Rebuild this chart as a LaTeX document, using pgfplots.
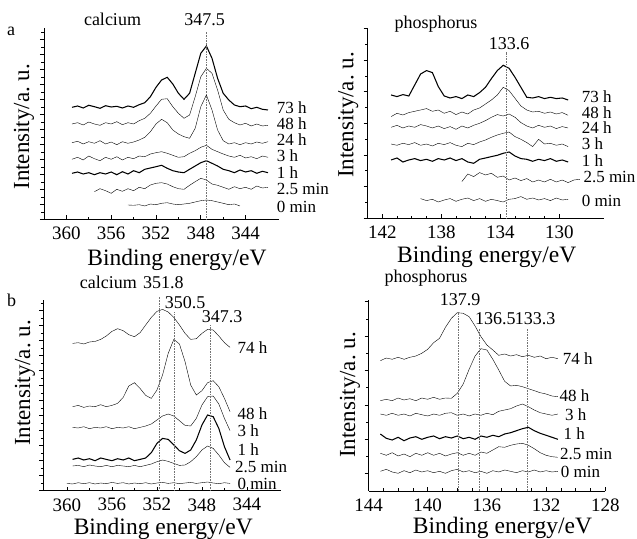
\documentclass[border=0pt]{standalone}
\usepackage{fontspec}
\setmainfont{Liberation Serif}
\usepackage{pgfplots}
\pgfplotsset{compat=1.18}
\usepackage{pgfplotstable}

\newcommand\fs[1]{\fontsize{#1}{#1}\selectfont}

% Ca 2p spectra, sample a (intensity in a.u., curves offset)
\pgfplotstableread{
E     t0    t25   t1    t3    t24   t48   t73
359.5 nan   nan   46.2  60.2  76.8  95.5  112.2
359.0 nan   nan   47.5  62.2  78.2  96.8  113.5
358.5 nan   nan   45.5  59.5  75.5  94.5  111.5
358.0 nan   nan   46.8  63.5  77.8  97.5  114.2
357.5 nan   27.8  44.8  60.8  76.2  95.5  112.8
357.0 nan   30.8  46.8  58.8  78.8  94.2  111.2
356.5 nan   28.8  45.5  62.2  75.5  96.8  113.8
356.0 nan   26.2  47.5  60.2  77.5  95.5  112.5
355.5 nan   30.2  44.8  62.8  74.8  97.8  113.2
355.0 nan   28.2  47.8  59.5  77.8  94.8  111.5
354.5 14.5  30.8  45.5  62.2  76.2  96.8  113.5
354.0 14.2  28.8  48.8  60.8  77.5  95.5  112.2
353.5 14.8  32.2  46.8  63.5  79.5  98.8  114.8
353.0 13.5  30.8  50.2  62.8  82.2  101.2 116.8
352.5 15.5  34.5  51.5  65.5  87.8  106.2 122.8
352.0 14.8  36.2  52.8  66.8  95.5  113.5 132.2
351.5 16.2  36.8  54.2  67.8  100.2 120.2 139.5
351.0 16.8  35.5  51.2  66.2  96.8  120.8 142.2
350.5 15.5  32.8  48.8  64.2  89.5  112.8 135.5
350.0 14.8  30.8  47.5  62.2  85.5  106.2 126.2
349.5 15.5  30.2  46.8  62.8  82.8  101.2 120.2
349.0 16.2  34.2  50.2  66.2  81.2  104.5 126.2
348.5 17.5  37.8  53.5  68.8  91.2  122.8 146.2
348.0 18.8  41.2  56.8  72.2  112.8 142.8 166.2
347.5 19.5  39.5  58.8  74.2  124.5 151.2 173.5
347.0 18.8  35.5  56.2  70.2  109.5 146.2 161.2
346.5 17.5  34.2  53.5  67.8  89.5  129.5 141.2
346.0 16.2  32.2  50.2  65.5  78.8  109.5 126.2
345.5 14.8  30.2  48.8  63.5  75.5  100.2 119.5
345.0 15.5  32.8  46.8  62.2  76.8  96.8  114.5
344.5 13.5  30.8  49.5  64.2  74.8  94.5  112.8
344.0 nan   32.2  47.5  61.5  76.8  96.2  113.5
343.5 nan   30.2  48.8  62.8  75.5  93.5  110.8
343.0 nan   33.5  46.2  60.8  77.5  95.5  112.2
342.5 nan   31.5  48.2  63.5  76.2  93.5  110.2
342.0 nan   32.2  46.8  62.2  77.8  94.2  109.5
}\tabA

% P 2p spectra, sample a
\pgfplotstableread{
E     t0    t25   t1    t3    t24   t48   t73
141.4 nan   nan   58.3  74.3  91.0  101.7 123.3
141.0 nan   nan   60.3  73.0  93.0  105.0 121.7
140.6 nan   nan   56.3  75.0  90.3  103.3 123.7
140.2 nan   nan   58.3  73.7  92.3  105.7 122.3
139.8 nan   nan   59.7  75.7  91.0  107.0 133.3
139.4 19.7  nan   57.7  73.0  93.7  108.3 144.3
139.0 17.7  nan   59.0  74.3  92.3  109.7 147.7
138.6 19.0  nan   57.0  72.3  90.3  107.0 145.7
138.2 16.3  nan   59.7  75.0  92.3  108.3 131.7
137.8 18.3  nan   58.3  73.7  89.7  105.0 122.3
137.4 19.7  nan   60.3  75.7  91.7  107.0 120.3
137.0 17.0  nan   57.7  73.0  89.0  103.7 121.7
136.6 19.0  36.7  59.7  71.7  92.3  106.3 119.7
136.2 20.3  44.3  56.3  75.0  90.3  104.3 123.3
135.8 17.7  41.7  55.0  73.7  93.0  108.3 121.7
135.4 19.7  45.7  59.0  76.3  95.0  110.3 125.7
135.0 17.0  43.3  60.3  78.3  97.7  114.3 131.0
134.6 19.0  45.0  61.7  81.0  101.0 118.3 139.7
134.2 17.7  41.0  63.0  83.3  103.7 123.3 147.7
133.8 16.3  42.3  65.0  85.0  102.3 131.0 153.0
133.4 19.0  38.3  66.3  86.3  104.3 127.7 150.0
133.0 19.7  40.3  62.3  81.7  101.0 120.0 141.0
132.6 21.7  37.7  59.7  79.0  95.7  112.3 131.0
132.2 19.0  39.7  59.0  75.7  92.3  108.3 121.0
131.8 20.3  36.3  57.0  71.7  90.3  106.3 120.3
131.4 18.3  38.3  59.0  79.0  93.0  107.0 121.7
131.0 19.7  36.3  57.7  74.3  91.0  105.0 119.7
130.6 17.7  39.0  59.7  75.0  92.3  106.3 121.0
130.2 20.3  36.3  57.0  73.0  89.7  104.3 119.7
129.8 18.3  38.3  58.3  74.3  91.7  105.7 120.3
129.4 19.0  35.7  56.3  71.7  90.3  103.0 118.3
129.0 nan   38.3  nan   nan   nan   nan   nan
128.6 nan   39.0  nan   nan   nan   nan   nan
}\tabB

% Ca 2p spectra, sample b
\pgfplotstableread{
E     t0    t25   t1    t3    t48   t74
360.0 7.3   nan   nan   nan   nan   nan
359.5 6.7   24.7  31.3  63.3  84.0  147.3
359.0 8.0   25.3  32.7  62.7  85.3  148.0
358.5 7.0   24.0  30.7  64.0  83.3  146.7
358.0 8.0   25.7  32.0  62.0  84.7  148.7
357.5 6.7   24.7  30.0  63.3  84.0  149.3
357.0 7.7   24.0  32.7  62.7  86.0  151.3
356.5 7.0   25.3  31.3  64.0  84.0  154.7
356.0 8.3   24.0  30.0  62.0  85.3  159.3
355.5 7.3   25.3  32.0  63.3  87.3  162.0
355.0 8.0   24.7  30.7  62.7  93.3  160.0
354.5 6.7   24.0  32.7  64.0  104.7 156.0
354.0 7.7   25.3  30.0  62.0  108.0 154.0
353.5 7.0   24.0  31.3  63.3  102.3 158.0
353.0 8.0   25.3  32.7  64.7  95.3  165.7
352.5 6.7   26.7  38.0  66.7  92.3  173.3
352.0 7.7   29.0  47.3  70.7  100.7 179.3
351.5 8.3   30.7  52.3  74.7  115.7 181.3
351.0 7.3   29.3  51.3  76.7  137.3 178.7
350.5 8.0   27.3  45.7  74.7  151.3 173.3
350.0 7.0   25.3  40.0  70.0  146.7 165.7
349.5 7.7   25.7  37.3  65.3  129.0 157.3
349.0 8.3   29.0  40.7  64.7  105.7 151.3
348.5 7.3   34.0  50.7  72.3  95.7  152.0
348.0 8.0   40.7  65.7  85.7  100.0 157.3
347.5 8.7   44.7  75.7  94.0  108.0 161.3
347.0 7.7   42.3  74.0  94.7  110.0 160.7
346.5 7.0   35.7  62.3  86.7  104.0 154.7
346.0 8.0   28.0  44.0  72.3  92.3  148.0
345.5 7.3   23.3  30.7  60.0  79.0  143.3
}\tabC

% P 2p spectra, sample b
\pgfplotstableread{
E     t0    t25   t1    t3    t48   t74
143.2 19.7  37.7  57.0  77.0  90.3  130.3
142.8 21.7  35.7  52.7  75.7  91.7  133.0
142.4 19.0  38.3  51.0  77.7  90.3  131.7
142.0 17.7  35.0  53.7  75.7  93.0  133.7
141.6 20.3  37.0  50.3  77.0  91.0  131.7
141.2 18.3  34.3  53.0  75.0  92.3  133.7
140.8 21.0  37.7  54.3  77.7  90.3  135.0
140.4 19.0  35.7  51.7  76.3  93.0  137.7
140.0 20.3  38.3  53.7  75.0  91.7  141.7
139.6 18.3  35.7  55.0  77.0  93.7  148.3
139.2 19.7  37.7  52.3  75.7  91.7  152.7
138.8 17.7  35.0  54.3  77.7  93.0  163.7
138.4 20.3  37.0  53.0  78.3  92.7  172.7
138.0 21.7  38.3  55.0  75.7  97.7  178.3
137.6 19.0  35.7  52.3  77.0  107.0 177.7
137.2 20.3  37.7  53.7  75.0  121.7 174.3
136.8 18.3  35.7  51.7  77.0  135.0 165.0
136.4 19.7  39.0  55.0  75.7  142.3 154.3
136.0 17.7  37.7  53.7  77.7  141.0 146.0
135.6 20.3  41.0  55.7  76.3  131.7 141.0
135.2 19.0  44.3  54.3  79.7  121.0 135.7
134.8 21.0  43.7  57.0  81.0  109.7 137.0
134.4 19.7  45.7  58.3  82.3  105.0 135.0
134.0 18.3  47.0  60.3  85.0  105.7 136.3
133.6 20.3  47.7  62.3  87.0  104.3 134.3
133.2 19.0  45.7  63.7  84.3  102.3 135.7
132.8 21.0  42.3  60.3  81.0  100.3 133.7
132.4 19.0  38.3  57.7  78.3  98.3  135.0
132.0 20.3  35.7  55.7  77.0  97.0  132.3
131.6 19.0  34.3  53.7  75.7  95.0  133.7
131.2 19.7  33.7  51.7  77.0  94.3  132.3
}\tabD

\tikzset{
  peak/.style={densely dotted, black!55, line width=0.6pt},
}

\pgfplotsset{
  xps/.style={
    scale only axis, anchor=south west,
    axis lines=left, axis line style={-, line width=0.8pt},
    x dir=reverse, ymin=0, clip=false,
    xtick align=inside, ytick align=outside,
    major tick length=4pt, minor tick length=2.5pt,
    tick style={black, line width=0.7pt},
    yticklabels={},
    /pgf/number format/assume math mode=true,
    xticklabel style={font=\fs{19}, inner sep=0pt, yshift=-7.5pt},
    unbounded coords=jump,
    cycle list={{black, mark=none, line width=1.05pt, line join=round}},
  },
}

\begin{document}
\begin{tikzpicture}
\path[use as bounding box] (0pt,0pt) rectangle (637pt,538pt);

% ---- a: calcium ----
\begin{axis}[xps, at={(44pt,318.5pt)}, width=235.2pt, height=191.5pt,
  xmin=341, xmax=362, ymax=191.5,
  xtick={344,348,352,356,360}, minor x tick num=1,
  ytick distance=15, minor y tick num=1]
  \addplot table[x=E, y=t0]  {\tabA};
  \addplot table[x=E, y=t25] {\tabA};
  \addplot table[x=E, y=t1]  {\tabA};
  \addplot table[x=E, y=t3]  {\tabA};
  \addplot table[x=E, y=t24] {\tabA};
  \addplot table[x=E, y=t48] {\tabA};
  \addplot table[x=E, y=t73] {\tabA};
  \draw[peak] (axis cs:347.5,0) -- (axis cs:347.5,187.8);
\end{axis}

% ---- a: phosphorus ----
\begin{axis}[xps, at={(367.5pt,319.7pt)}, width=236pt, height=190.3pt,
  xmin=127, xmax=143, ymax=190.3,
  xtick={130,134,138,142}, minor x tick num=3,
  ytick distance=31.65, minor y tick num=1]
  \addplot table[x=E, y=t0]  {\tabB};
  \addplot table[x=E, y=t25] {\tabB};
  \addplot table[x=E, y=t1]  {\tabB};
  \addplot table[x=E, y=t3]  {\tabB};
  \addplot table[x=E, y=t24] {\tabB};
  \addplot table[x=E, y=t48] {\tabB};
  \addplot table[x=E, y=t73] {\tabB};
  \draw[peak] (axis cs:133.6,0) -- (axis cs:133.6,166.6);
\end{axis}

% ---- b: calcium ----
\begin{axis}[xps, at={(43.3pt,47.3pt)}, width=237.4pt, height=190.7pt,
  xmin=341, xmax=362.1, ymax=190.7,
  xtick={344,348,352,356,360}, minor x tick num=1,
  ytick distance=15, minor y tick num=1]
  \addplot table[x=E, y=t0]  {\tabC};
  \addplot table[x=E, y=t25] {\tabC};
  \addplot table[x=E, y=t1]  {\tabC};
  \addplot table[x=E, y=t3]  {\tabC};
  \addplot table[x=E, y=t48] {\tabC};
  \addplot table[x=E, y=t74] {\tabC};
  \draw[peak] (axis cs:351.8,0) -- (axis cs:351.8,194);
  \draw[peak] (axis cs:350.5,0) -- (axis cs:350.5,179);
  \draw[peak] (axis cs:347.3,0) -- (axis cs:347.3,165.7);
\end{axis}

% ---- b: phosphorus ----
\begin{axis}[xps, at={(368.5pt,47pt)}, width=236.8pt, height=191pt,
  xmin=128, xmax=144, ymax=191,
  xtick={128,132,136,140,144}, minor x tick num=3,
  ytick={17.2,51.6,86,120.4,154.8,189.2},
  minor ytick={34.4,68.8,103.2,137.6,172}]
  \addplot table[x=E, y=t0]  {\tabD};
  \addplot table[x=E, y=t25] {\tabD};
  \addplot table[x=E, y=t1]  {\tabD};
  \addplot table[x=E, y=t3]  {\tabD};
  \addplot table[x=E, y=t48] {\tabD};
  \addplot table[x=E, y=t74] {\tabD};
  \draw[peak] (axis cs:137.9,0) -- (axis cs:137.9,179.3);
  \draw[peak] (axis cs:136.5,0) -- (axis cs:136.5,163);
  \draw[peak] (axis cs:133.3,0) -- (axis cs:133.3,163);
\end{axis}

\begin{scope}[x=1pt, y=1pt, every node/.style={inner sep=0pt}]
  % panel a, calcium
  \node[anchor=base] at (11,502) {\fs{18}a};
  \node[anchor=base] at (112.5,512) {\fs{18}calcium};
  \node[anchor=base] at (204.5,512) {\fs{18}347.5};
  \begin{scope}[every node/.style={anchor=base west, inner sep=0pt, font=\fs{17}}]
    \node at (276.7,424.7) {73 h};
    \node at (276.7,408.3) {48 h};
    \node at (276.7,392) {24 h};
    \node at (276.7,376.3) {3 h};
    \node at (276.7,359.7) {1 h};
    \node at (276.7,343.7) {2.5 min};
    \node at (276.7,325.3) {0 min};
  \end{scope}
  \node[anchor=base] at (177,272.5) {\fs{23.5}Binding energy/eV};
  \node[rotate=90] at (24,411.3) {\fs{23}Intensity/a.\ u.};

  % panel a, phosphorus
  \node[anchor=base] at (436,509.7) {\fs{18}phosphorus};
  \node[anchor=base] at (509,488.7) {\fs{18}133.6};
  \begin{scope}[every node/.style={anchor=base west, inner sep=0pt, font=\fs{17}}]
    \node at (581.7,435.5) {73 h};
    \node at (581.7,419.5) {48 h};
    \node at (581.7,404) {24 h};
    \node at (581.7,388) {3 h};
    \node at (581.7,371.3) {1 h};
    \node at (583.3,355.3) {2.5 min};
    \node at (581.7,331.3) {0 min};
  \end{scope}
  \node[anchor=base] at (486.7,275) {\fs{23.5}Binding energy/eV};
  \node[rotate=90] at (348.3,423) {\fs{23}Intensity/a.\ u.};

  % panel b, calcium
  \node[anchor=base] at (11.7,231.3) {\fs{18}b};
  \node[anchor=base] at (108.3,249) {\fs{18}calcium};
  \node[anchor=base] at (163.3,249) {\fs{18}351.8};
  \node[anchor=base] at (185,229.7) {\fs{18}350.5};
  \node[anchor=base] at (222,215.3) {\fs{18}347.3};
  \begin{scope}[every node/.style={anchor=base west, inner sep=0pt, font=\fs{17}}]
    \node at (237.3,184) {74 h};
    \node at (237.3,118) {48 h};
    \node at (237.3,101.3) {3 h};
    \node at (237.3,82.5) {1 h};
    \node at (235,65.5) {2.5 min};
    \node at (237.3,48.8) {0 min};
  \end{scope}
  \node[anchor=base] at (163.3,3.8) {\fs{23.5}Binding energy/eV};
  \node[rotate=90] at (25,155) {\fs{23}Intensity/a.\ u.};

  % panel b, phosphorus
  \node[anchor=base] at (426,255) {\fs{18}phosphorus};
  \node[anchor=base] at (460,232) {\fs{18}137.9};
  \node[anchor=base] at (495.3,213) {\fs{18}136.5};
  \node[anchor=base] at (535,213) {\fs{18}133.3};
  \begin{scope}[every node/.style={anchor=base west, inner sep=0pt, font=\fs{17}}]
    \node at (562.7,173) {74 h};
    \node at (559.3,136.3) {48 h};
    \node at (565,117.3) {3 h};
    \node at (563.3,98.7) {1 h};
    \node at (560,78.7) {2.5 min};
    \node at (560.7,60.7) {0 min};
  \end{scope}
  \node[anchor=base] at (502.5,4.2) {\fs{23.5}Binding energy/eV};
  \node[rotate=90] at (350,143) {\fs{23}Intensity/a.\ u.};
\end{scope}
\end{tikzpicture}
\end{document}
